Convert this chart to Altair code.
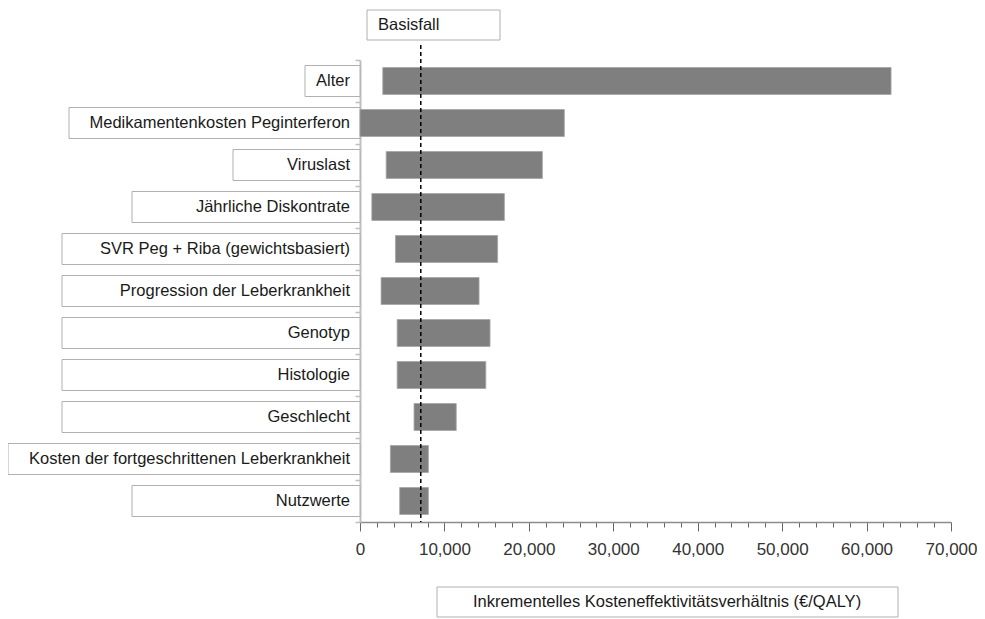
import altair as alt
import pandas as pd

# ---- data ----
factors = [
    "Alter",
    "Medikamentenkosten Peginterferon",
    "Viruslast",
    "Jährliche Diskontrate",
    "SVR Peg + Riba (gewichtsbasiert)",
    "Progression der Leberkrankheit",
    "Genotyp",
    "Histologie",
    "Geschlecht",
    "Kosten der fortgeschrittenen Leberkrankheit",
    "Nutzwerte",
]
low_values = [2700, 0, 3100, 1400, 4200, 2500, 4400, 4400, 6400, 3600, 4700]
high_values = [62900, 24200, 21600, 17100, 16300, 14100, 15400, 14900, 11400, 8100, 8100]
base_case = 7200
x_max = 70000
x_tick_values = list(range(0, 70001, 2000))
x_label_step = 10000
x_title = "Inkrementelles Kosteneffektivitätsverhältnis (€/QALY)"
base_label = "Basisfall"

# ---- layout / style (pixels, relative to plot area) ----
box_left_px = [-55, -291, -127, -228, -298, -298, -298, -298, -298, -352, -228]
W, H = 591, 462
FONT = "Liberation Sans"
FS = 16.5

df = pd.DataFrame({"factor": factors, "low": low_values, "high": high_values,
                   "box_left": box_left_px})
one = pd.DataFrame({"base": [base_case]})

x_scale = alt.Scale(domain=[0, x_max], nice=False, zero=True)

y_enc = alt.Y(
    "factor:N",
    sort=factors,
    scale=alt.Scale(paddingInner=0, paddingOuter=0),
    axis=alt.Axis(labels=False, title=None, tickBand="extent",
                  domainColor="#bfbfbf", domainWidth=2,
                  tickColor="#bfbfbf", tickSize=5, tickWidth=1.5),
)

x_axis = alt.Axis(
    title=None,
    values=x_tick_values,
    labelExpr=f"datum.value % {x_label_step} === 0 ? format(datum.value, ',') : ''",
    labelFlush=False, labelOverlap=False,
    labelFont=FONT, labelFontSize=17, labelColor="#333333", labelPadding=10,
    domainColor="#8c8c8c", domainWidth=1.5,
    tickColor="#666666", tickWidth=1,
    tickSize={"condition": {"test": f"datum.value % {x_label_step} === 0", "value": 9}, "value": 5},
    grid=False,
)

boxes = alt.Chart(df).mark_bar(size=31, fill="white", stroke="#b0b0b0", strokeWidth=1).encode(
    x=alt.X("box_left:Q", scale=None, axis=None),
    x2=alt.value(-3),
    y=y_enc,
)

labels = alt.Chart(df).mark_text(align="right", baseline="middle", font=FONT,
                                 fontSize=FS, color="#1a1a1a").encode(
    x=alt.value(-10),
    y=alt.Y("factor:N", sort=factors),
    text="factor:N",
)

bars = alt.Chart(df).mark_bar(size=27, color="#7f7f7f", stroke="#a6a6a6", strokeWidth=0.8).encode(
    x=alt.X("low:Q", scale=x_scale, axis=x_axis),
    x2="high:Q",
    y=alt.Y("factor:N", sort=factors),
)

base_rule = alt.Chart(one).mark_rule(color="black", strokeDash=[4, 3], strokeWidth=1.5).encode(
    x=alt.X("base:Q", scale=x_scale, axis=x_axis),
    y=alt.value(-15),
    y2=alt.value(H),
)

base_box = alt.Chart(one).mark_rect(fill="white", stroke="#b0b0b0", strokeWidth=1).encode(
    x=alt.value(7), x2=alt.value(140), y=alt.value(-50), y2=alt.value(-20),
)
base_text = alt.Chart(one).mark_text(align="left", baseline="middle", font=FONT,
                                     fontSize=FS, color="#1a1a1a").encode(
    x=alt.value(18), y=alt.value(-35), text=alt.value(base_label),
)

title_box = alt.Chart(one).mark_rect(fill="white", stroke="#b0b0b0", strokeWidth=1).encode(
    x=alt.value(77), x2=alt.value(538), y=alt.value(H + 65), y2=alt.value(H + 95),
)
title_text = alt.Chart(one).mark_text(align="center", baseline="middle", font=FONT,
                                      fontSize=FS, color="#1a1a1a").encode(
    x=alt.value(307), y=alt.value(H + 80), text=alt.value(x_title),
)

chart = alt.layer(
    boxes, labels, bars, base_rule, base_box, base_text, title_box, title_text
).properties(
    width=W, height=H,
    autosize=alt.AutoSizeParams(type="none"),
    padding={"left": 352, "top": 52, "right": 26, "bottom": 97},
).configure(background="white").configure_view(stroke=None)

chart.save("out.html", embed_options={"renderer": "svg", "actions": False})
